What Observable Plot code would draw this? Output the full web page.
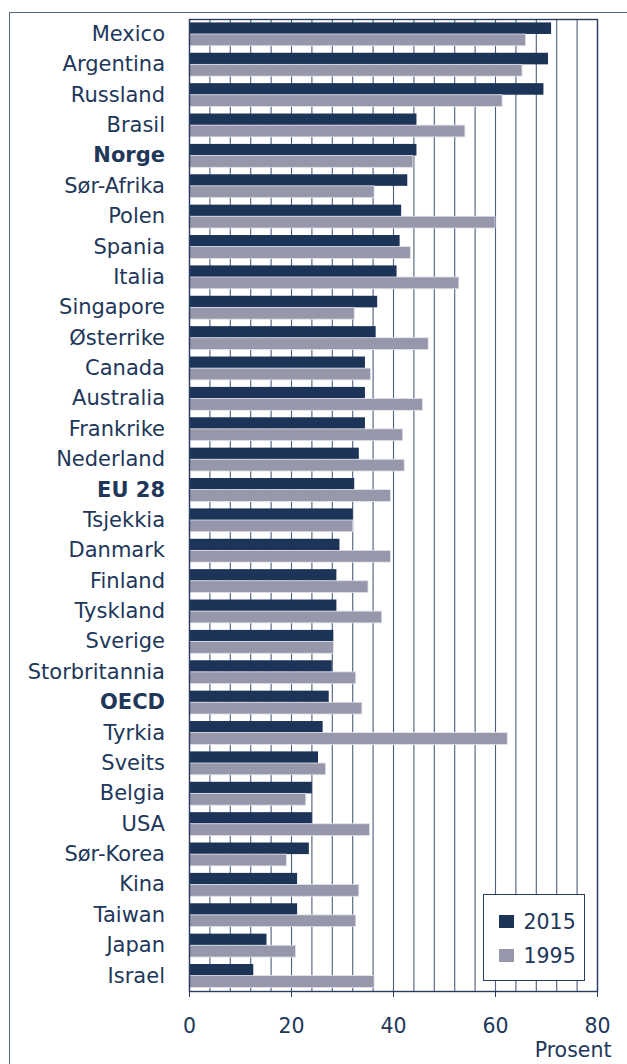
<!DOCTYPE html>
<html>
<head>
<meta charset="utf-8">
<script src="https://cdn.jsdelivr.net/npm/d3@7"></script>
<script src="https://cdn.jsdelivr.net/npm/@observablehq/plot@0.6"></script>
<style>
  html, body { margin: 0; padding: 0; background: #ffffff; }
  body { width: 627px; height: 1064px; position: relative; overflow: hidden; font-family: "DejaVu Sans", Verdana, sans-serif; }
  #outer { position: absolute; left: 9px; top: 12px; width: 700px; height: 1100px;
           border-left: 1.5px solid #56667f; border-top: 1.5px solid #56667f; }
  #chart { position: absolute; left: 0; top: 0; }
  #legend { position: absolute; left: 482.5px; top: 894px; width: 100.5px; height: 84.5px;
            border: 1.3px solid #2a3c60; background: #ffffff; color: #21375a; font-size: 20.5px; }
  #legend .sw { position: absolute; left: 15.5px; width: 15px; height: 13.4px; }
  #legend .lb { position: absolute; left: 40px; line-height: 20px; }
</style>
</head>
<body>
<div id="outer"></div>
<div id="chart"></div>
<div id="legend"></div>
<script>
const countries = ["Mexico","Argentina","Russland","Brasil","Norge","Sør-Afrika","Polen","Spania","Italia","Singapore","Østerrike","Canada","Australia","Frankrike","Nederland","EU 28","Tsjekkia","Danmark","Finland","Tyskland","Sverige","Storbritannia","OECD","Tyrkia","Sveits","Belgia","USA","Sør-Korea","Kina","Taiwan","Japan","Israel"];
const values2015 = [71.0,70.4,69.5,44.6,44.6,42.8,41.6,41.3,40.7,36.9,36.6,34.5,34.5,34.5,33.3,32.4,32.1,29.5,28.9,28.9,28.3,28.0,27.4,26.2,25.3,24.1,24.1,23.5,21.2,21.2,15.2,12.6];
const values1995 = [66.0,65.3,61.4,54.1,43.9,36.3,60.0,43.4,52.9,32.4,46.9,35.6,45.8,41.9,42.2,39.5,32.1,39.5,35.1,37.8,28.3,32.7,33.9,62.4,26.8,22.9,35.4,19.1,33.3,32.7,20.9,36.3];
const boldLabels = ["Norge","EU 28","OECD"];
const seriesNames = ["2015","1995"];
const seriesColors = ["#1d3459","#9797ab"];
const xTicks = [0,20,40,60,80];
const gridTicks = [0,4,8,12,16,20,24,28,32,36,40,44,48,52,56,60,64,68,72,76,80];
const axisTitle = "Prosent";

const rows2015 = countries.map((c, i) => ({country: c, value: values2015[i]}));
const rows1995 = countries.map((c, i) => ({country: c, value: values1995[i]}));

const textColor = "#21375a";

const chart = Plot.plot({
  width: 627,
  height: 1064,
  marginLeft: 189,
  marginRight: 30,
  marginTop: 19,
  marginBottom: 73,
  style: {fontFamily: "DejaVu Sans, Verdana, sans-serif", fontSize: "20px", color: textColor, background: "transparent", overflow: "visible"},
  x: {domain: [0, 80]},
  y: {domain: countries, padding: 0, round: false, axis: null},
  marks: [
    Plot.ruleX(gridTicks, {stroke: "#4e5e7c", strokeWidth: 1.1}),
    Plot.barX(rows2015, {x: "value", y: "country", fill: seriesColors[0], insetTop: 3.4, insetBottom: 15.4}),
    Plot.barX(rows1995, {x: "value", y: "country", fill: seriesColors[1], insetTop: 15, insetBottom: 3.6, stroke: "#e2e2ea", strokeWidth: 0.8}),
    Plot.frame({stroke: "#2a3c60", strokeWidth: 1.4}),
    Plot.axisX({ticks: xTicks, tickSize: 6, tickPadding: 21, label: null, fontSize: 20.5, stroke: "#2a3c60", fill: textColor}),
    Plot.text(countries.filter(c => !boldLabels.includes(c)), {y: d => d, frameAnchor: "left", textAnchor: "end", dx: -24.5, dy: -0.5, fill: textColor, fontSize: 21}),
    Plot.text(countries.filter(c => boldLabels.includes(c)), {y: d => d, frameAnchor: "left", textAnchor: "end", dx: -24.5, dy: -0.5, fill: textColor, fontSize: 21, fontWeight: "bold"}),
    Plot.text([axisTitle], {frameAnchor: "bottom-right", textAnchor: "end", dx: 14, dy: 65.5, fill: textColor, fontSize: 20.5})
  ]
});
document.getElementById("chart").appendChild(chart);

const legend = document.getElementById("legend");
seriesNames.forEach((name, i) => {
  const sw = document.createElement("div");
  sw.className = "sw";
  sw.style.top = (19.5 + i * 34) + "px";
  sw.style.background = seriesColors[i];
  legend.appendChild(sw);
  const lb = document.createElement("div");
  lb.className = "lb";
  lb.style.top = (17 + i * 34) + "px";
  lb.textContent = name;
  legend.appendChild(lb);
});
</script>
</body>
</html>
